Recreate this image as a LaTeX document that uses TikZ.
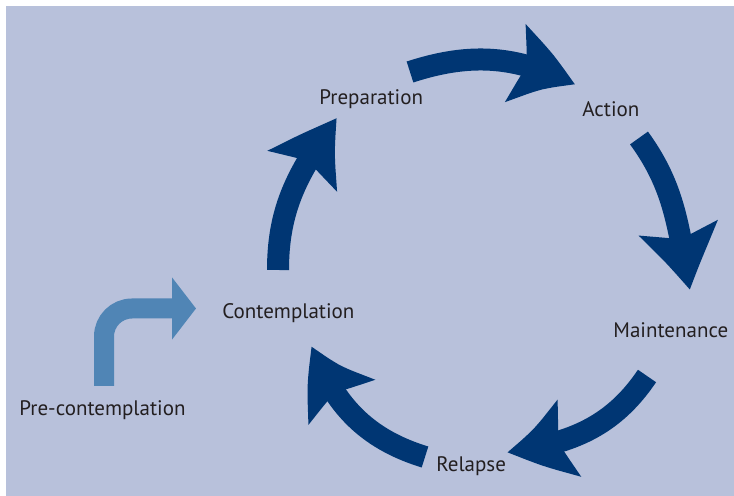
\documentclass[tikz,border=0pt]{standalone}
\usepackage{fontspec}
\setmainfont{PT Sans}
\usepackage{xcolor}
\usetikzlibrary{arrows.meta,bending}

\definecolor{cyclebg}{RGB}{184,193,219}
\definecolor{cyclenavy}{RGB}{0,54,115}
\definecolor{cyclelight}{RGB}{80,133,181}
\definecolor{stagetext}{RGB}{35,31,32}

\begin{document}
\begin{tikzpicture}[x=0.5pt, y=0.5pt,
    stage/.style={text=stagetext, font=\fontsize{10.5}{12}\selectfont, inner sep=0pt, anchor=base west},
    cyclearrow/.style={cyclenavy, line width=11pt, -{Stealth[length=33pt,width=38pt,inset=6pt,bend]}},
    entryarrow/.style={cyclelight, line width=10pt, rounded corners=14pt, -{Triangle[length=12pt,width=30.5pt]}}]

    % Panel (white strip left and top)
    \useasboundingbox (0,0) rectangle (734,496);
    \fill[cyclebg] (6,0) rectangle (734,490);

    % Stages
    \node[stage] (precontemp) at (19,80)  {Pre-contemplation};
    \node[stage] (contemp)    at (222,177) {Contemplation};
    \node[stage] (prep)       at (319,391) {Preparation};
    \node[stage] (action)     at (582,379) {Action};
    \node[stage] (maint)      at (613,158) {Maintenance};
    \node[stage] (relapse)    at (436,24)  {Relapse};

    % Ends of the cycle arrows (tail, tip)
    \coordinate (cp-tail) at (278,226);  \coordinate (cp-tip) at (337,378);
    \coordinate (pa-tail) at (410,424);  \coordinate (pa-tip) at (575,411);
    \coordinate (am-tail) at (639,358);  \coordinate (am-tip) at (690,206);
    \coordinate (mr-tail) at (647,120);  \coordinate (mr-tip) at (507,44);
    \coordinate (rc-tail) at (425,39);   \coordinate (rc-tip) at (312,150);

    % Cycle
    \draw[cyclearrow] (cp-tail) to[out=90,in=234]   (cp-tip);
    \draw[cyclearrow] (pa-tail) to[out=18,in=153]   (pa-tip);
    \draw[cyclearrow] (am-tail) to[out=-54,in=101]  (am-tip);
    \draw[cyclearrow] (mr-tail) to[out=236,in=7]    (mr-tip);
    \draw[cyclearrow] (rc-tail) to[out=163,in=290]  (rc-tip);

    % Entry into the cycle
    \coordinate (entry-tail) at (104,110);
    \coordinate (entry-tip)  at (196,187.5);
    \draw[entryarrow] (entry-tail) |- (entry-tip);

\end{tikzpicture}
\end{document}
